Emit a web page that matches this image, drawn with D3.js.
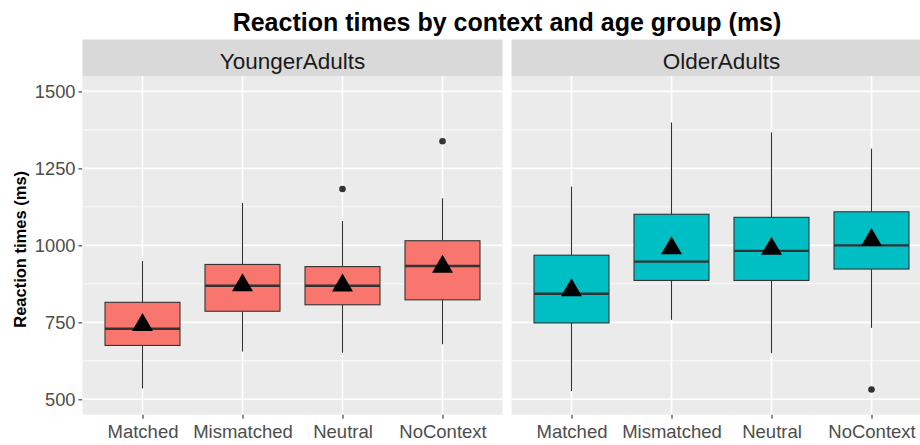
<!DOCTYPE html>
<html lang="en">
<head>
    <meta charset="UTF-8">
    <title>Reaction times by context and age group</title>
    <style>
        body { margin: 0; background: #fff; font-family: "Liberation Sans", Arial, sans-serif; }
        svg { display: block; }
    </style>
</head>
<body>
    <div id="chart"></div>
    <script src="https://cdnjs.cloudflare.com/ajax/libs/d3/7.8.5/d3.min.js"></script>
    <script>
        // data
        const contexts = ["Matched", "Mismatched", "Neutral", "NoContext"];
        const groups = ["YoungerAdults", "OlderAdults"];
        const groupColors = ["#F8766D", "#00BFC4"];

        const whiskerLow = [[535, 655, 651, 679], [527, 758, 650, 732]];
        const q1 = [[675, 786, 807, 823], [748, 886, 886, 923]];
        const median = [[729, 869, 869, 933], [843, 947, 982, 1000]];
        const q3 = [[815, 938, 931, 1015], [968, 1101, 1091, 1109]];
        const whiskerHigh = [[949, 1138, 1079, 1153], [1191, 1399, 1367, 1314]];
        const means = [[751, 880, 879, 940], [864, 1000, 999, 1027]];
        const outliers = [[[], [], [1183], [1338]], [[], [], [], [532]]];

        const yTicks = [500, 750, 1000, 1250, 1500];
        const yMinor = [625, 875, 1125, 1375];

        const W = 920, H = 445;
        const panelTop = 76, panelBottom = 414.7;
        const panelW = 420, panelGap = 9;
        const panelX = [82.5, 82.5 + panelW + panelGap];
        const stripTop = 39.5;

        const svg = d3.select("#chart").append("svg")
            .attr("width", W).attr("height", H);

        const y = d3.scaleLinear().domain([450, 1550]).range([panelBottom, panelTop]);

        // title
        svg.append("text")
            .attr("x", (panelX[0] + panelX[1] + panelW) / 2)
            .attr("y", 31)
            .attr("text-anchor", "middle")
            .attr("font-size", 25)
            .attr("font-weight", "bold")
            .attr("fill", "#000")
            .text("Reaction times by context and age group (ms)");

        // y axis title
        svg.append("text")
            .attr("transform", `translate(26,${(panelTop + panelBottom) / 2 + 4}) rotate(-90)`)
            .attr("text-anchor", "middle")
            .attr("font-size", 16.5)
            .attr("font-weight", "bold")
            .attr("fill", "#000")
            .text("Reaction times (ms)");

        // y axis (left panel only)
        const yAxis = svg.append("g")
            .attr("transform", `translate(${panelX[0]},0)`)
            .call(d3.axisLeft(y).tickValues(yTicks).tickSize(4).tickPadding(3).tickFormat(d3.format("d")));
        yAxis.select(".domain").remove();
        yAxis.selectAll("line").attr("stroke", "#333").attr("stroke-width", 1.1);
        yAxis.selectAll("text").attr("font-size", 18.3).attr("fill", "#4D4D4D")
            .attr("font-family", "Liberation Sans, Arial, sans-serif");

        groups.forEach((grp, gi) => {
            const x0 = panelX[gi];
            const x = d3.scalePoint().domain(contexts).range([x0, x0 + panelW]).padding(0.6);
            const bw = x.step() * 0.75;

            // strip
            svg.append("rect")
                .attr("x", x0).attr("y", stripTop)
                .attr("width", panelW).attr("height", panelTop - stripTop)
                .attr("fill", "#D9D9D9");
            svg.append("text")
                .attr("x", x0 + panelW / 2).attr("y", 69)
                .attr("text-anchor", "middle")
                .attr("font-size", 22.5)
                .attr("fill", "#1A1A1A")
                .text(grp);

            // panel background + grid
            const p = svg.append("g");
            p.append("rect")
                .attr("x", x0).attr("y", panelTop)
                .attr("width", panelW).attr("height", panelBottom - panelTop)
                .attr("fill", "#EBEBEB");
            p.selectAll(".minor").data(yMinor).join("line")
                .attr("x1", x0).attr("x2", x0 + panelW)
                .attr("y1", d => y(d)).attr("y2", d => y(d))
                .attr("stroke", "#fff").attr("stroke-width", 0.8);
            p.selectAll(".major").data(yTicks).join("line")
                .attr("x1", x0).attr("x2", x0 + panelW)
                .attr("y1", d => y(d)).attr("y2", d => y(d))
                .attr("stroke", "#fff").attr("stroke-width", 1.6);
            p.selectAll(".vmajor").data(contexts).join("line")
                .attr("x1", d => x(d)).attr("x2", d => x(d))
                .attr("y1", panelTop).attr("y2", panelBottom)
                .attr("stroke", "#fff").attr("stroke-width", 1.6);

            // x axis
            const xAxis = svg.append("g")
                .attr("transform", `translate(0,${panelBottom})`)
                .call(d3.axisBottom(x).tickSize(4).tickPadding(6));
            xAxis.select(".domain").remove();
            xAxis.selectAll("line").attr("stroke", "#333").attr("stroke-width", 1.1);
            xAxis.selectAll("text").attr("font-size", 18.5).attr("fill", "#4D4D4D")
                .attr("font-family", "Liberation Sans, Arial, sans-serif");

            // boxes
            const rows = contexts.map((c, i) => ({
                c, lo: whiskerLow[gi][i], q1: q1[gi][i], med: median[gi][i],
                q3: q3[gi][i], hi: whiskerHigh[gi][i], mean: means[gi][i], out: outliers[gi][i]
            }));
            const b = p.selectAll(".box").data(rows).join("g");
            b.append("line")
                .attr("x1", d => x(d.c)).attr("x2", d => x(d.c))
                .attr("y1", d => y(d.hi)).attr("y2", d => y(d.q3))
                .attr("stroke", "#333").attr("stroke-width", 1.1);
            b.append("line")
                .attr("x1", d => x(d.c)).attr("x2", d => x(d.c))
                .attr("y1", d => y(d.q1)).attr("y2", d => y(d.lo))
                .attr("stroke", "#333").attr("stroke-width", 1.1);
            b.append("rect")
                .attr("x", d => x(d.c) - bw / 2).attr("width", bw)
                .attr("y", d => y(d.q3)).attr("height", d => y(d.q1) - y(d.q3))
                .attr("fill", groupColors[gi])
                .attr("stroke", "#333").attr("stroke-width", 1.1);
            b.append("line")
                .attr("x1", d => x(d.c) - bw / 2).attr("x2", d => x(d.c) + bw / 2)
                .attr("y1", d => y(d.med)).attr("y2", d => y(d.med))
                .attr("stroke", "#333").attr("stroke-width", 2.4);
            b.selectAll("circle").data(d => d.out.map(v => ({ c: d.c, v }))).join("circle")
                .attr("cx", d => x(d.c)).attr("cy", d => y(d.v))
                .attr("r", 3.3).attr("fill", "#333");
            // mean triangles
            b.append("path")
                .attr("transform", d => `translate(${x(d.c)},${y(d.mean)})`)
                .attr("d", "M0,-9L10.5,9L-10.5,9Z")
                .attr("fill", "#000");
        });
    </script>
</body>
</html>
